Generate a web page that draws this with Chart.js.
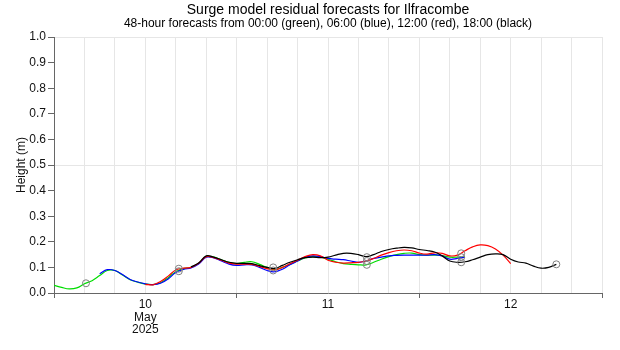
<!DOCTYPE html>
<html>
<head>
<meta charset="utf-8">
<title>Surge model residual forecasts for Ilfracombe</title>
<script src="https://cdn.jsdelivr.net/npm/chart.js@4/dist/chart.umd.min.js"></script>
<style>
    html, body { margin: 0; padding: 0; background: #ffffff; }
    #wrap { width: 620px; height: 350px; }
</style>
</head>
<body>
<div id="wrap"><canvas id="surgeChart" width="620" height="350"></canvas></div>
<script>
const chartTitle = 'Surge model residual forecasts for Ilfracombe';
const chartSubtitle = '48-hour forecasts from 00:00 (green), 06:00 (blue), 12:00 (red), 18:00 (black)';

// Hours relative to 10 May 2025 00:00
const hours = [
    -12, -11, -10, -9, -8, -7, -6, -5, -4, -3, -2, -1,
    0, 1, 2, 3, 4, 5, 6, 7, 8, 9, 10, 11,
    12, 13, 14, 15, 16, 17, 18, 19, 20, 21, 22, 23,
    24, 25, 26, 27, 28, 29, 30, 31, 32, 33, 34, 35,
    36, 37, 38, 39, 40, 41, 42, 43, 44, 45, 46, 47,
    48, 49, 50, 51, 52, 53, 54
];

// Surge residual (m) per forecast run, null where the run has no value
const greenHeights = [
    0.030, 0.022, 0.016, 0.020, 0.036, 0.048, 0.068, 0.088, 0.088, 0.070, 0.052, 0.042,
    0.035, 0.033, 0.040, 0.060, 0.083, 0.095, 0.100, 0.115, 0.143, 0.140, 0.130, 0.120,
    0.115, 0.120, 0.122, 0.112, 0.100, 0.092, 0.100, 0.112, 0.125, 0.137, 0.142, 0.140,
    0.132, 0.122, 0.115, 0.112, 0.110, 0.110, 0.120, 0.132, 0.142, 0.150, 0.155, 0.156,
    0.150, 0.148, 0.148, 0.146, 0.140, 0.140, 0.141, null, null, null, null, null,
    null, null, null, null, null, null, null
];
const blueHeights = [
    null, null, null, null, null, null, 0.075, 0.091, 0.088, 0.072, 0.053, 0.043,
    0.036, 0.033, 0.038, 0.055, 0.080, 0.092, 0.098, 0.113, 0.140, 0.137, 0.125, 0.113,
    0.108, 0.110, 0.110, 0.100, 0.088, 0.083, 0.093, 0.110, 0.125, 0.140, 0.145, 0.142,
    0.135, 0.132, 0.130, 0.125, 0.120, 0.125, 0.135, 0.140, 0.145, 0.147, 0.148, 0.148,
    0.148, 0.148, 0.150, 0.145, 0.132, 0.135, 0.140, null, null, null, null, null,
    null, null, null, null, null, null, null
];
const redHeights = [
    null, null, null, null, null, null, null, null, null, null, null, null,
    0.034, 0.032, 0.045, 0.066, 0.090, 0.097, 0.100, 0.116, 0.142, 0.138, 0.128, 0.117,
    0.113, 0.113, 0.112, 0.104, 0.095, 0.090, 0.100, 0.114, 0.128, 0.142, 0.150, 0.145,
    0.128, 0.120, 0.117, 0.118, 0.120, 0.125, 0.135, 0.148, 0.158, 0.165, 0.168, 0.165,
    0.156, 0.152, 0.157, 0.155, 0.145, 0.148, 0.165, 0.180, 0.188, 0.185, 0.172, 0.148,
    0.115, null, null, null, null, null, null
];
const blackHeights = [
    null, null, null, null, null, null, null, null, null, null, null, null,
    null, null, null, null, null, null, 0.102, 0.117, 0.145, 0.140, 0.130, 0.120,
    0.116, 0.116, 0.115, 0.107, 0.100, 0.096, 0.108, 0.120, 0.130, 0.138, 0.140, 0.138,
    0.140, 0.148, 0.155, 0.155, 0.150, 0.142, 0.150, 0.162, 0.170, 0.175, 0.178, 0.176,
    0.170, 0.166, 0.160, 0.145, 0.125, 0.120, 0.122, 0.130, 0.140, 0.150, 0.153, 0.150,
    0.132, 0.121, 0.117, 0.105, 0.097, 0.100, 0.112
];

// High water markers (grey circles)
const hwHours = [-7.8, 4.4, 4.4, 16.8, 16.8, 29.1, 29.1, 29.1, 41.5, 41.5, 41.5, 54];
const hwHeights = [0.038, 0.085, 0.095, 0.088, 0.100, 0.110, 0.125, 0.140, 0.120, 0.140, 0.155, 0.112];

const xMajorTicks = [-12, 12, 36, 60];
const fontFamily = '"Liberation Sans", Arial, Helvetica, sans-serif';

function toPoints(xs, ys) {
    return xs.map((x, i) => ({ x: x, y: ys[i] }));
}

function forecastLine(label, color, values, order) {
    return {
        label: label,
        data: toPoints(hours, values),
        borderColor: color,
        borderWidth: 1.2,
        pointRadius: 0,
        tension: 0.4,
        spanGaps: false,
        order: order
    };
}

function dayLabel(value) {
    if (value === 0) return ['10', 'May', '2025'];
    if (value === 24) return '11';
    if (value === 48) return '12';
    return '';
}

// Titles centred over the plot area rather than the whole canvas
const titlePlugin = {
    id: 'surgeTitles',
    afterDraw(chart) {
        const { ctx, chartArea } = chart;
        const cx = (chartArea.left + chartArea.right) / 2;
        ctx.save();
        ctx.fillStyle = '#000';
        ctx.textAlign = 'center';
        ctx.textBaseline = 'middle';
        ctx.font = '14px ' + fontFamily;
        ctx.fillText(chartTitle, cx, 10);
        ctx.font = '12px ' + fontFamily;
        ctx.fillText(chartSubtitle, cx, 23.5);
        ctx.restore();
    }
};

const ctx = document.getElementById('surgeChart').getContext('2d');
new Chart(ctx, {
    type: 'line',
    data: {
        datasets: [
            {
                label: 'High water',
                data: toPoints(hwHours, hwHeights),
                showLine: false,
                pointRadius: 3.5,
                pointBorderWidth: 1,
                pointBorderColor: '#808080',
                pointBackgroundColor: 'rgba(0,0,0,0)',
                order: 0
            },
            forecastLine('18:00', '#000000', blackHeights, 1),
            forecastLine('12:00', '#ff0000', redHeights, 2),
            forecastLine('06:00', '#0000ff', blueHeights, 3),
            forecastLine('00:00', '#00dd00', greenHeights, 4)
        ]
    },
    options: {
        responsive: false,
        animation: false,
        layout: { padding: { top: 37, right: 18, bottom: 0, left: 0 } },
        plugins: {
            legend: { display: false },
            tooltip: { enabled: false },
            title: { display: false }
        },
        scales: {
            x: {
                type: 'linear',
                min: -12,
                max: 60,
                border: { color: '#666', width: 1 },
                grid: {
                    color: '#e6e6e6',
                    tickColor: (c) => xMajorTicks.includes(c.tick.value) ? '#666' : 'rgba(0,0,0,0)',
                    tickLength: 5
                },
                ticks: {
                    stepSize: 4,
                    autoSkip: false,
                    maxRotation: 0,
                    padding: 1,
                    color: '#111',
                    font: { family: fontFamily, size: 12, lineHeight: 1.03 },
                    callback: dayLabel
                },
                afterFit: (scale) => { scale.height = 57; }
            },
            y: {
                min: 0,
                max: 1,
                border: { color: '#666', width: 1 },
                grid: {
                    color: (c) => (Math.abs(c.tick.value - 0.5) < 1e-6 || Math.abs(c.tick.value - 1) < 1e-6) ? '#e6e6e6' : 'rgba(0,0,0,0)',
                    tickColor: '#666',
                    tickLength: 6
                },
                ticks: {
                    stepSize: 0.1,
                    padding: 2,
                    color: '#111',
                    font: { family: fontFamily, size: 12 },
                    callback: (v) => v.toFixed(1)
                },
                title: {
                    display: true,
                    text: 'Height (m)',
                    color: '#111',
                    font: { family: fontFamily, size: 12 },
                    padding: { top: 14, bottom: 0 }
                },
                afterFit: (scale) => { scale.width = 54; }
            }
        }
    },
    plugins: [titlePlugin]
});
</script>
</body>
</html>
